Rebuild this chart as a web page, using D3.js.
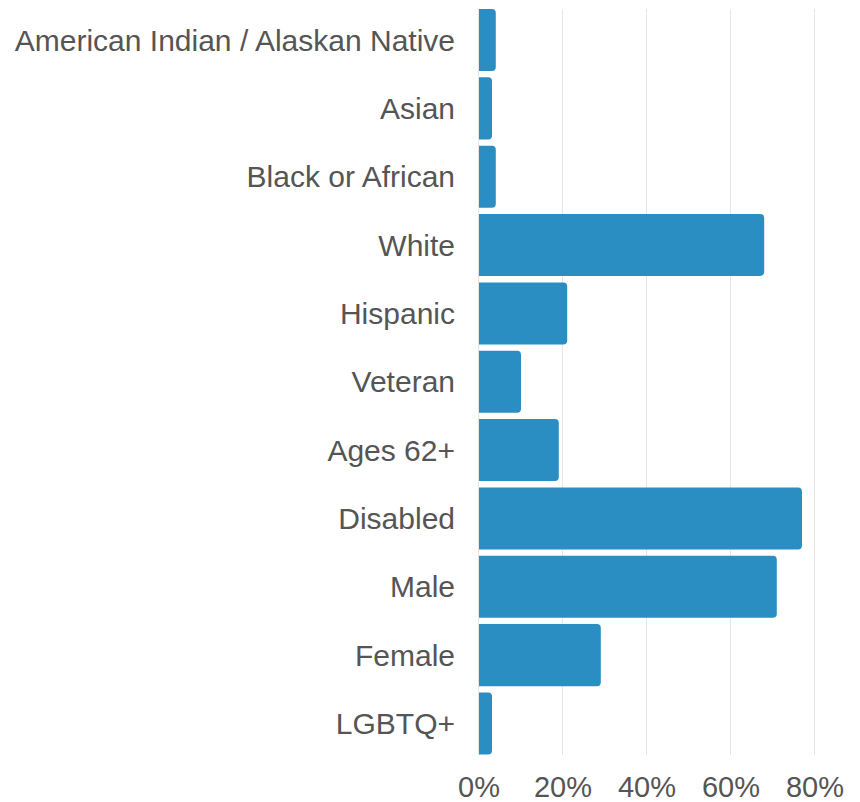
<!DOCTYPE html>
<html><head><meta charset="utf-8">
<script src="https://cdn.jsdelivr.net/npm/d3@7"></script>
<style>body{margin:0;background:#fff}svg{display:block}</style>
</head><body><div id="chart"></div>
<script>
const categories = ["American Indian / Alaskan Native","Asian","Black or African","White","Hispanic","Veteran","Ages 62+","Disabled","Male","Female","LGBTQ+"];
const values = [4.0, 3.1, 4.0, 67.9, 21.0, 10.0, 19.0, 76.9, 70.9, 29.0, 3.1];
const tickValues = [0, 20, 40, 60, 80];

const W = 860, H = 802;
const svg = d3.select("#chart").append("svg").attr("width", W).attr("height", H);
const x = d3.scaleLinear().domain([0, 80]).range([479, 815]);
const y = d3.scaleBand().domain(categories).range([9, 754.5]).paddingInner(0.092).paddingOuter(0);

// grid
svg.append("g").selectAll("line").data(tickValues).join("line")
  .attr("x1", d => x(d) - 0.5).attr("x2", d => x(d) - 0.5)
  .attr("y1", 9).attr("y2", 755)
  .attr("stroke", "#e6e6e6").attr("stroke-width", 1);

// bars with rounded right corners
const r = 4;
svg.append("g").selectAll("path").data(categories).join("path")
  .attr("d", (c, i) => {
    const x0 = x(0), x1 = x(values[i]), y0 = y(c), h = y.bandwidth();
    const rr = Math.min(r, (x1 - x0) / 2);
    return `M${x0},${y0}H${x1-rr}Q${x1},${y0} ${x1},${y0+rr}V${y0+h-rr}Q${x1},${y0+h} ${x1-rr},${y0+h}H${x0}Z`;
  })
  .attr("fill", "#2a8ec2");

const font = "'Liberation Sans', Arial, sans-serif";
// category labels
svg.append("g").selectAll("text").data(categories).join("text")
  .attr("x", 455)
  .attr("y", c => y(c) + y.bandwidth() / 2)
  .attr("dy", "0.35em")
  .attr("text-anchor", "end")
  .attr("font-family", font)
  .attr("font-size", 30)
  .attr("fill", "#555")
  .text(c => c);

// x axis labels
svg.append("g").selectAll("text").data(tickValues).join("text")
  .attr("x", d => x(d))
  .attr("y", 797)
  .attr("text-anchor", "middle")
  .attr("font-family", font)
  .attr("font-size", 29)
  .attr("fill", "#555")
  .text(d => d + "%");
</script></body></html>
